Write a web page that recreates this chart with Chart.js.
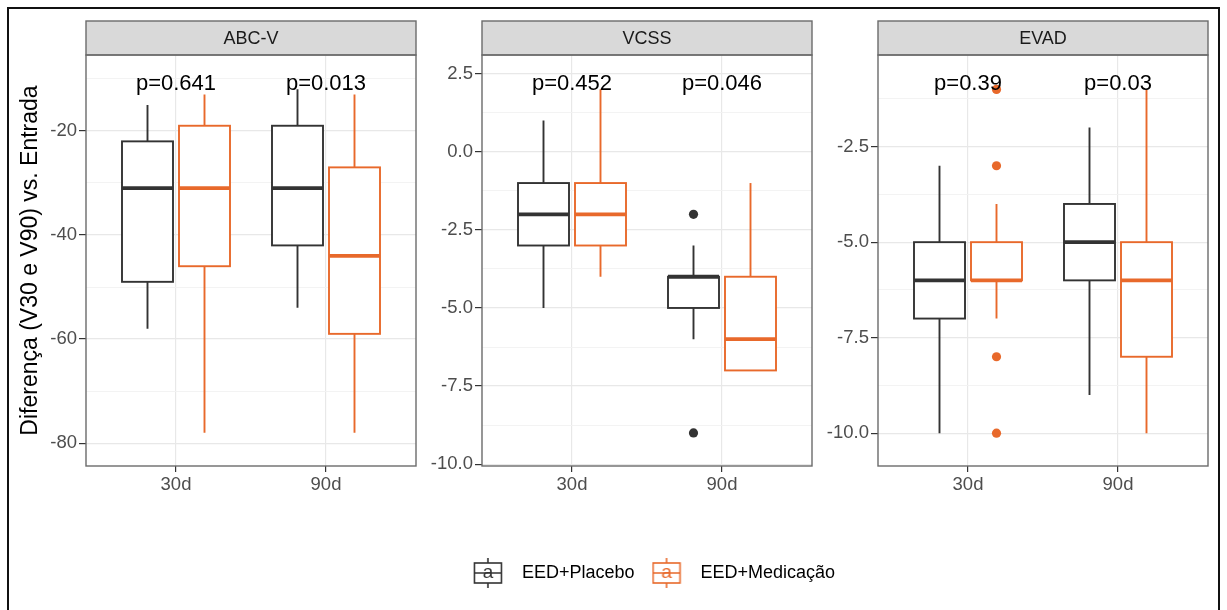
<!DOCTYPE html>
<html>
<head>
<meta charset="utf-8">
<script src="https://cdn.jsdelivr.net/npm/chart.js@4.4.1/dist/chart.umd.min.js"></script>
<style>
  html, body { margin: 0; padding: 0; background: #fff; }
  body { width: 1227px; height: 610px; position: relative; overflow: hidden; }
  #frame { position: absolute; left: 7px; top: 7px; width: 1209px; height: 640px; border: 2px solid #111; border-bottom: none; }
  canvas { position: absolute; top: 0; }
</style>
</head>
<body>
<div id="frame"></div>
<canvas id="p1" width="424" height="500" style="left:0px"></canvas>
<canvas id="p2" width="400" height="500" style="left:420px"></canvas>
<canvas id="p3" width="396" height="500" style="left:820px"></canvas>
<canvas id="leg" width="1146" height="120" style="left:81px;top:547px"></canvas>
<script>
const categories = ['30d', '90d'];
const groups = ['EED+Placebo', 'EED+Medicação'];
const panels = ['ABC-V', 'VCSS', 'EVAD'];

// [min, q1, median, q3, max] for 30d and 90d
const abcPlacebo = [[-58, -49, -31, -22, -15], [-54, -42, -31, -19, -12]];
const abcMedicacao = [[-78, -46, -31, -19, -13], [-78, -59, -44, -27, -13]];
const vcssPlacebo = [[-5, -3, -2, -1, 1], [-6, -5, -4, -4, -3]];
const vcssMedicacao = [[-4, -3, -2, -1, 2], [-7, -7, -6, -4, -1]];
const evadPlacebo = [[-10, -7, -6, -5, -3], [-9, -6, -5, -4, -2]];
const evadMedicacao = [[-7, -6, -6, -5, -4], [-10, -8, -6, -5, -1]];

// outliers for 30d and 90d
const abcPlaceboOut = [[], []];
const abcMedicacaoOut = [[], []];
const vcssPlaceboOut = [[], [-2, -9]];
const vcssMedicacaoOut = [[], []];
const evadPlaceboOut = [[], []];
const evadMedicacaoOut = [[-1, -3, -8, -10], []];

const abcP = ['p=0.641', 'p=0.013'];
const vcssP = ['p=0.452', 'p=0.046'];
const evadP = ['p=0.39', 'p=0.03'];

const abcTicks = [-80, -60, -40, -20];
const vcssTicks = [-10, -7.5, -5, -2.5, 0, 2.5];
const evadTicks = [-10, -7.5, -5, -2.5];

const colors = ['#333333', '#E8692B'];
const dodge = 0.19, half = 0.17;
const FONT = '"Liberation Sans", Arial, sans-serif';

Chart.defaults.font.family = FONT;
Chart.defaults.color = '#4d4d4d';

const boxPlugin = {
  id: 'boxes',
  beforeDatasetsDraw(chart, args, opts) {
    const { ctx, chartArea: a, scales: { x, y } } = chart;
    ctx.save();
    ctx.beginPath();
    ctx.rect(a.left, a.top, a.right - a.left, a.bottom - a.top);
    ctx.clip();
    opts.stats.forEach((st, g) => {
      ctx.strokeStyle = colors[g];
      st.forEach((s, i) => {
        const c = i + 1 + (g === 0 ? -dodge : dodge);
        const xc = x.getPixelForValue(c);
        const x0 = x.getPixelForValue(c - half), x1 = x.getPixelForValue(c + half);
        const [lo, q1, md, q3, hi] = s.map(v => y.getPixelForValue(v));
        ctx.lineWidth = 1.9;
        ctx.beginPath();
        ctx.moveTo(xc, hi); ctx.lineTo(xc, q3);
        ctx.moveTo(xc, q1); ctx.lineTo(xc, lo);
        ctx.stroke();
        ctx.fillStyle = '#fff';
        ctx.fillRect(x0, q3, x1 - x0, q1 - q3);
        ctx.strokeRect(x0, q3, x1 - x0, q1 - q3);
        ctx.lineWidth = 3.8;
        ctx.beginPath();
        ctx.moveTo(x0, md); ctx.lineTo(x1, md);
        ctx.stroke();
      });
    });
    ctx.restore();
  },
  afterDatasetsDraw(chart, args, opts) {
    const { ctx, scales: { x, y } } = chart;
    // p-value label sits at the highest value of the panel
    const top = Math.max(...opts.stats.flat(2), ...opts.outs.flat(2));
    ctx.save();
    ctx.fillStyle = '#000';
    ctx.font = '22px ' + FONT;
    ctx.textAlign = 'center';
    ctx.textBaseline = 'alphabetic';
    opts.labels.forEach((t, i) => ctx.fillText(t, x.getPixelForValue(i + 1), y.getPixelForValue(top) + 1));
    ctx.restore();
  },
  afterDraw(chart, args, opts) {
    const { ctx, chartArea: { left, right, top, bottom } } = chart;
    ctx.save();
    ctx.fillStyle = '#d9d9d9';
    ctx.fillRect(left, top - 34, right - left, 34);
    ctx.strokeStyle = '#6b6b6b';
    ctx.lineWidth = 1.4;
    ctx.strokeRect(left, top - 34, right - left, 34);
    ctx.strokeRect(left, top, right - left, bottom - top);
    ctx.fillStyle = '#1a1a1a';
    ctx.font = '18px ' + FONT;
    ctx.textAlign = 'center';
    ctx.textBaseline = 'middle';
    ctx.fillText(opts.strip, (left + right) / 2, top - 16);
    ctx.restore();
  }
};

function panel(id, strip, stats, outs, labels, ticks, min, max, fmt, yWidth, title) {
  const step = ticks[1] - ticks[0];
  const minors = [ticks[0] - step / 2, ...ticks.map(v => v + step / 2)]
    .filter(v => v > min + step * 0.2 && v < max);
  const allTicks = [...ticks, ...minors].sort((a, b) => a - b);
  const major = c => c.tick && ticks.includes(c.tick.value);

  const datasets = groups.map((g, k) => ({
    label: g,
    data: outs[k].flatMap((vals, i) => vals.map(v => ({ x: i + 1 + (k ? dodge : -dodge), y: v }))),
    pointRadius: 4.6,
    pointHoverRadius: 4.6,
    pointBorderWidth: 0,
    pointBackgroundColor: colors[k],
    pointBorderColor: colors[k]
  }));

  return new Chart(document.getElementById(id), {
    type: 'scatter',
    data: { datasets },
    plugins: [boxPlugin],
    options: {
      responsive: false,
      animation: false,
      devicePixelRatio: 1,
      layout: { padding: { top: 55, right: 8, left: 0, bottom: 0 } },
      plugins: {
        legend: { display: false },
        tooltip: { enabled: false },
        boxes: { stats, outs, labels, strip }
      },
      scales: {
        x: {
          type: 'linear', min: 0.4, max: 2.6,
          afterBuildTicks: s => { s.ticks = categories.map((c, i) => ({ value: i + 1 })); },
          afterFit: s => { s.height = 34; },
          ticks: { callback: v => categories[v - 1], color: '#4d4d4d', font: { size: 18.5 }, padding: 2, maxRotation: 0, autoSkip: false },
          grid: { color: '#e8e8e8', lineWidth: 1.2, tickColor: '#333', tickLength: 6 },
          border: { display: false }
        },
        y: {
          min, max,
          afterBuildTicks: s => { s.ticks = allTicks.map(v => ({ value: v })); },
          afterFit: s => { s.width = yWidth; },
          ticks: { callback: v => ticks.includes(v) ? fmt(v) : '', color: '#4d4d4d', font: { size: 18.5 }, padding: 2, autoSkip: false },
          grid: {
            color: c => major(c) ? '#e8e8e8' : '#f2f2f2',
            lineWidth: c => major(c) ? 1.2 : 0.9,
            tickColor: c => major(c) ? '#333' : 'rgba(0,0,0,0)',
            tickLength: 7
          },
          border: { display: false },
          title: title
            ? { display: true, text: title, color: '#000', font: { size: 23 }, padding: { top: 17, bottom: 0 } }
            : { display: false }
        }
      }
    }
  });
}

const intFmt = v => String(v);
const decFmt = v => v.toFixed(1);

panel('p1', panels[0], [abcPlacebo, abcMedicacao], [abcPlaceboOut, abcMedicacaoOut], abcP,
  abcTicks, -84.4, -5.4, intFmt, 86, 'Diferença (V30 e V90) vs. Entrada');
panel('p2', panels[1], [vcssPlacebo, vcssMedicacao], [vcssPlaceboOut, vcssMedicacaoOut], vcssP,
  vcssTicks, -10.06, 3.1, decFmt, 62);
panel('p3', panels[2], [evadPlacebo, evadMedicacao], [evadPlaceboOut, evadMedicacaoOut], evadP,
  evadTicks, -10.86, -0.1, decFmt, 58);

// legend key: small boxplot glyph with the "a" text key
function keyImage(color) {
  const c = document.createElement('canvas');
  c.width = 40; c.height = 32;
  const g = c.getContext('2d');
  g.strokeStyle = color;
  g.lineWidth = 1.6;
  g.beginPath();
  g.moveTo(15, 1); g.lineTo(15, 6);
  g.moveTo(15, 26); g.lineTo(15, 31);
  g.moveTo(1, 16); g.lineTo(29, 16);
  g.stroke();
  g.strokeRect(1.5, 6, 27, 20);
  g.fillStyle = color;
  g.font = '19px ' + FONT;
  g.textAlign = 'center';
  g.textBaseline = 'middle';
  g.fillText('a', 15, 16);
  return c;
}

new Chart(document.getElementById('leg'), {
  type: 'scatter',
  data: { datasets: groups.map(g => ({ label: g, data: [] })) },
  options: {
    responsive: false,
    animation: false,
    devicePixelRatio: 1,
    scales: { x: { display: false }, y: { display: false } },
    plugins: {
      tooltip: { enabled: false },
      legend: {
        position: 'top',
        align: 'center',
        labels: {
          usePointStyle: true,
          pointStyleWidth: 40,
          padding: 17,
          color: '#1a1a1a',
          font: { size: 18 },
          generateLabels: () => groups.map((g, k) => ({
            text: g,
            pointStyle: keyImage(colors[k]),
            fillStyle: 'transparent',
            strokeStyle: 'transparent',
            lineWidth: 0,
            hidden: false,
            datasetIndex: k
          }))
        }
      }
    }
  }
});
</script>
</body>
</html>
